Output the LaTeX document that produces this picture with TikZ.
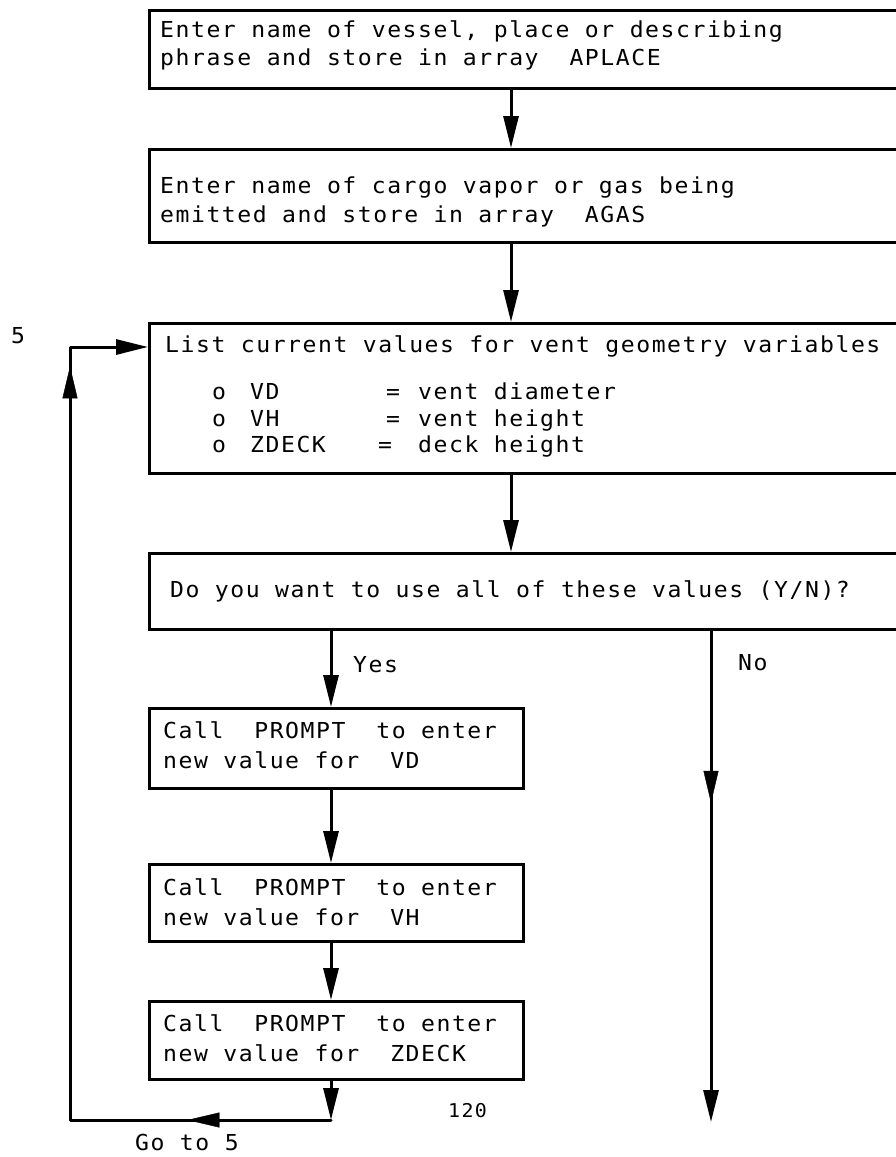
\documentclass[tikz,border=0pt]{standalone}
\usepackage{fontspec}
\newfontfamily\flowfont[FakeStretch=1.05,LetterSpace=7]{DejaVu Sans Mono}
\usetikzlibrary{arrows.meta,decorations.markings}
\begin{document}
\begin{tikzpicture}[x=1pt,y=-1pt,
  every node/.style={font=\flowfont\fontsize{22}{26}\selectfont},
  box/.style={draw, line width=3pt, anchor=north west, inner sep=0pt, minimum width=#1},
  box/.default=900pt,
  line/.style={line width=3pt},
  tip/.style={-{Triangle[length=32pt,width=15pt]}},
  txt/.style={anchor=base west, inner sep=0pt},
  midtip/.style={decorate, decoration={markings, mark=at position #1 with {\arrow{Triangle[length=32pt,width=15pt]}}}},
]
\useasboundingbox (0,0) rectangle (896,1157);
\clip (0,0) rectangle (896,1157);

\coordinate (colA) at (511,0);
\coordinate (colY) at (331,0);
\coordinate (colN) at (711,0);

% boxes
\node[box, minimum height=78pt] (b1) at (148,9) {};
\node[box, minimum height=93pt] (b2) at (148,148) {};
\node[box, minimum height=150pt] (b3) at (148,322) {};
\node[box, minimum height=76pt] (b4) at (148,552) {};
\node[box=374pt, minimum height=80pt] (b5) at (148,707) {};
\node[box=374pt, minimum height=77pt] (b6) at (148,863) {};
\node[box=374pt, minimum height=78pt] (b7) at (148,1000) {};

% texts
\node[txt] (t1a) at (160,37.5) {Enter name of vessel, place or describing};
\node[txt] (t1b) at (160,65) {phrase and store in array~~APLACE};
\node[txt] (t2a) at (160,193) {Enter name of cargo vapor or gas being};
\node[txt] (t2b) at (160,222) {emitted and store in array~~AGAS};
\node[txt] (t3a) at (165,352) {List current values for vent geometry variables};
\node[txt] (o1) at (212,399) {o};
\node[txt] (o2) at (212,426) {o};
\node[txt] (o3) at (212,452) {o};
\node[txt] (n1) at (250,399) {VD};
\node[txt] (n2) at (250,426) {VH};
\node[txt] (n3) at (250,452) {ZDECK};
\node[txt] (e1) at (386,399) {=};
\node[txt] (e2) at (386,426) {=};
\node[txt] (e3) at (378,452) {=};
\node[txt] (d1) at (418,399) {vent diameter};
\node[txt] (d2) at (418,426) {vent height};
\node[txt] (d3) at (418,452) {deck height};
\node[txt] (t4) at (170,597) {Do you want to use all of these values (Y/N)?};
\node[txt] (t5a) at (163,738) {Call~~PROMPT~~to enter};
\node[txt] (t5b) at (163,768) {new value for~~VD};
\node[txt] (t6a) at (163,895) {Call~~PROMPT~~to enter};
\node[txt] (t6b) at (163,925) {new value for~~VH};
\node[txt] (t7a) at (163,1031) {Call~~PROMPT~~to enter};
\node[txt] (t7b) at (163,1061) {new value for~~ZDECK};

% labels
\node[txt] (yes) at (353,672) {Yes};
\node[txt] (no) at (738,670) {No};
\node[txt] (five) at (11,343) {5};
\node[txt] (goto) at (135,1150) {Go to 5};
\node[txt, font=\flowfont\fontsize{19}{22}\selectfont] (page) at (448,1117) {120};

% connectors
\draw[line,tip] (b1.south -| colA) -- (b2.north -| colA);
\draw[line,tip] (b2.south -| colA) -- (b3.north -| colA);
\draw[line,tip] (b3.south -| colA) -- (b4.north -| colA);
\draw[line,tip] (b4.south -| colY) -- (b5.north -| colY);
\draw[line,tip] (b5.south -| colY) -- (b6.north -| colY);
\draw[line,tip] (b6.south -| colY) -- (b7.north -| colY);

% No branch
\coordinate (nEnd) at (711,1122);
\draw[line,tip] (b4.south -| colN) -- (nEnd);
\path[midtip=0.35] (b4.south -| colN) -- (nEnd);

% loop back
\coordinate (l1) at (331,1120);
\coordinate (l2) at (70,1120);
\coordinate (l3) at (70,347);
\coordinate (l4) at (148,347);
\draw[line,tip] (b7.south -| colY) -- (l1);
\draw[line,tip,line cap=round,line join=round] (l1) -- (l2) -- (l3) -- (l4);
\path[midtip=0.55] (l1) -- (l2);
\path[midtip=0.975] (l2) -- (l3);
\end{tikzpicture}
\end{document}
